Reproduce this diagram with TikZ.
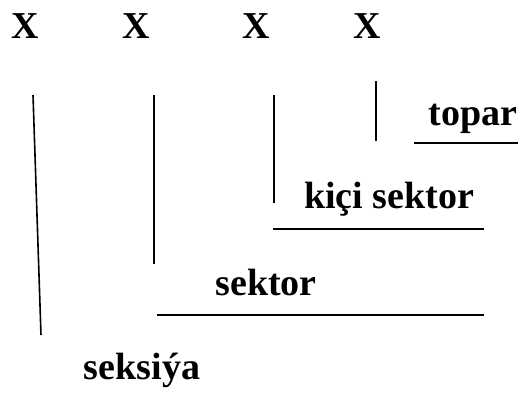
\documentclass[tikz,border=0pt]{standalone}
\usepackage{fontspec}
\setmainfont{Liberation Serif}[BoldFont={Liberation Serif Bold}]
\begin{document}
\begin{tikzpicture}[x=1pt,y=-1pt,
  lbl/.style={font=\fontsize{38}{44}\selectfont\bfseries, inner sep=0pt, anchor=base},
  rule/.style={line width=1.6pt}]
\useasboundingbox (0,0) rectangle (522,400);
% top X marks
\node[lbl] (x1) at (25,38) {X};
\node[lbl] (x2) at (136,38) {X};
\node[lbl] (x3) at (256,38) {X};
\node[lbl] (x4) at (367,38) {X};
% labels
\node[lbl] (topar) at (473,125) {topar};
\node[lbl] (kici) at (389,208) {kiçi sektor};
\node[lbl] (sektor) at (266,295) {sektor};
\node[lbl] (seksiya) at (142,379) {seksiýa};
% vertical lines
\coordinate (v1a) at (33,95);  \coordinate (v1b) at (41,335);
\coordinate (v2a) at (154,95); \coordinate (v2b) at (154,264);
\coordinate (v3a) at (274,95); \coordinate (v3b) at (274,203);
\coordinate (v4a) at (376,81); \coordinate (v4b) at (376,141);
\draw[rule] (v1a) -- (v1b);
\draw[rule] (v2a) -- (v2b);
\draw[rule] (v3a) -- (v3b);
\draw[rule] (v4a) -- (v4b);
% horizontal lines
\coordinate (h1a) at (414,143); \coordinate (h1b) at (518,143);
\coordinate (h2a) at (273,229); \coordinate (h2b) at (484,229);
\coordinate (h3a) at (157,315); \coordinate (h3b) at (484,315);
\draw[rule] (h1a) -- (h1b);
\draw[rule] (h2a) -- (h2b);
\draw[rule] (h3a) -- (h3b);
\end{tikzpicture}
\end{document}
